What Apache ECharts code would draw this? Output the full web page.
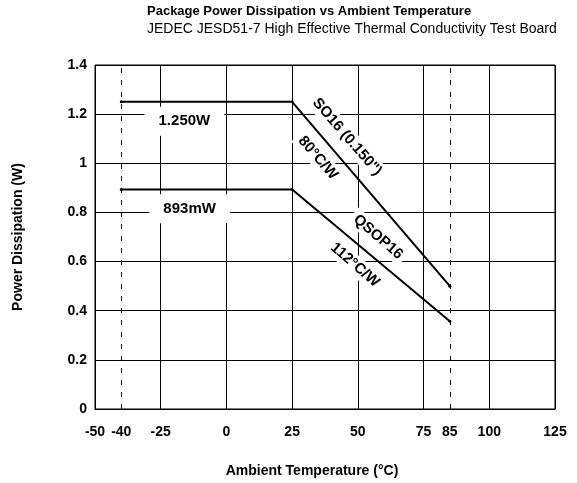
<!DOCTYPE html>
<html>
<head>
<meta charset="utf-8">
<script src="https://cdn.jsdelivr.net/npm/echarts@6/dist/echarts.min.js"></script>
<style>html,body{margin:0;padding:0;background:#fff}#c{width:577px;height:483px}</style>
</head>
<body>
<div id="c"></div>
<script>
// Data
var xTickLabels = [-50, -40, -25, 0, 25, 50, 75, 85, 100, 125];
var yTickLabels = [0, 0.2, 0.4, 0.6, 0.8, 1, 1.2, 1.4];
var tempPoints = [-40, 25, 85];
var so16Power = [1.25, 1.25, 0.5];
var qsop16Power = [0.893, 0.893, 0.357];
var refTemps = [-40, 85];
var annoTexts = ['1.250W', '893mW', 'SO16 (0.150")', '80°C/W', 'QSOP16', '112°C/W'];
var annoX = [-16.0, -14.0, 45.9, 34.8, 57.7, 48.9];
var annoY = [1.171, 0.815, 1.107, 1.022, 0.70, 0.586];
var annoRot = [0, 0, -49, -49, -41, -41];

var FONT = '"Liberation Sans", Arial, sans-serif';
function pairs(xs, ys) { return xs.map(function (x, i) { return [x, ys[i]]; }); }

var chart = echarts.init(document.getElementById('c'), null, {renderer: 'canvas'});
chart.setOption({
  animation: false,
  backgroundColor: '#fff',
  title: {
    text: 'Package Power Dissipation vs Ambient Temperature',
    subtext: 'JEDEC JESD51-7 High Effective Thermal Conductivity Test Board',
    left: 147, top: 5, itemGap: 4, padding: 0,
    textStyle: {fontFamily: FONT, fontSize: 13, fontWeight: 'bold', color: '#000'},
    subtextStyle: {fontFamily: FONT, fontSize: 14, color: '#000'}
  },
  grid: {left: 95, right: 22, top: 65, bottom: 74, show: true, borderColor: '#000', borderWidth: 1, backgroundColor: 'transparent'},
  xAxis: {
    type: 'value', min: -50, max: 125, interval: 25,
    name: 'Ambient Temperature (°C)', nameLocation: 'middle', nameGap: 55,
    nameTextStyle: {fontFamily: FONT, fontSize: 14, fontWeight: 'bold', color: '#000', padding: [0, 26, 0, 0]},
    axisLine: {show: true, lineStyle: {color: '#000'}},
    axisTick: {show: false},
    axisLabel: {customValues: xTickLabels, margin: 16, fontFamily: FONT, fontSize: 14, fontWeight: 'bold', color: '#000'},
    splitLine: {show: true, lineStyle: {color: '#000', width: 1}}
  },
  yAxis: {
    type: 'value', min: 0, max: 1.4, interval: 0.2,
    name: 'Power Dissipation (W)', nameLocation: 'middle', nameGap: 70, nameRotate: 90,
    nameTextStyle: {fontFamily: FONT, fontSize: 14, fontWeight: 'bold', color: '#000'},
    axisLine: {show: true, lineStyle: {color: '#000'}},
    axisTick: {show: false},
    axisLabel: {margin: 8, fontFamily: FONT, fontSize: 14, fontWeight: 'bold', color: '#000',
      formatter: function (v) { return String(+v.toFixed(1)); }},
    splitLine: {show: true, lineStyle: {color: '#000', width: 1}}
  },
  series: [
    {
      type: 'line', name: 'annotations', data: [], z: 3,
      markLine: {
        silent: true, symbol: 'none', z: 3,
        lineStyle: {color: '#000', type: [5, 7], width: 1},
        label: {show: false},
        data: refTemps.map(function (t) { return {xAxis: t}; })
      },
      markPoint: {
        silent: true, symbol: 'rect', symbolSize: 0, z: 4,
        data: annoTexts.map(function (t, i) {
          return {
            coord: [annoX[i], annoY[i]], value: t,
            label: {
              show: true, position: 'inside', formatter: t, rotate: annoRot[i],
              fontFamily: FONT, fontSize: 15, fontWeight: 'bold', color: '#000',
              backgroundColor: '#fff', padding: i < 2 ? [7, 14] : [2, 4]
            }
          };
        })
      }
    },
    {
      type: 'line', name: 'SO16', data: pairs(tempPoints, so16Power), z: 10,
      symbol: 'circle', symbolSize: 3, showSymbol: true,
      itemStyle: {color: '#000'},
      lineStyle: {color: '#000', width: 2}
    },
    {
      type: 'line', name: 'QSOP16', data: pairs(tempPoints, qsop16Power), z: 10,
      symbol: 'circle', symbolSize: 3, showSymbol: true,
      itemStyle: {color: '#000'},
      lineStyle: {color: '#000', width: 2}
    }
  ]
});
</script>
</body>
</html>
